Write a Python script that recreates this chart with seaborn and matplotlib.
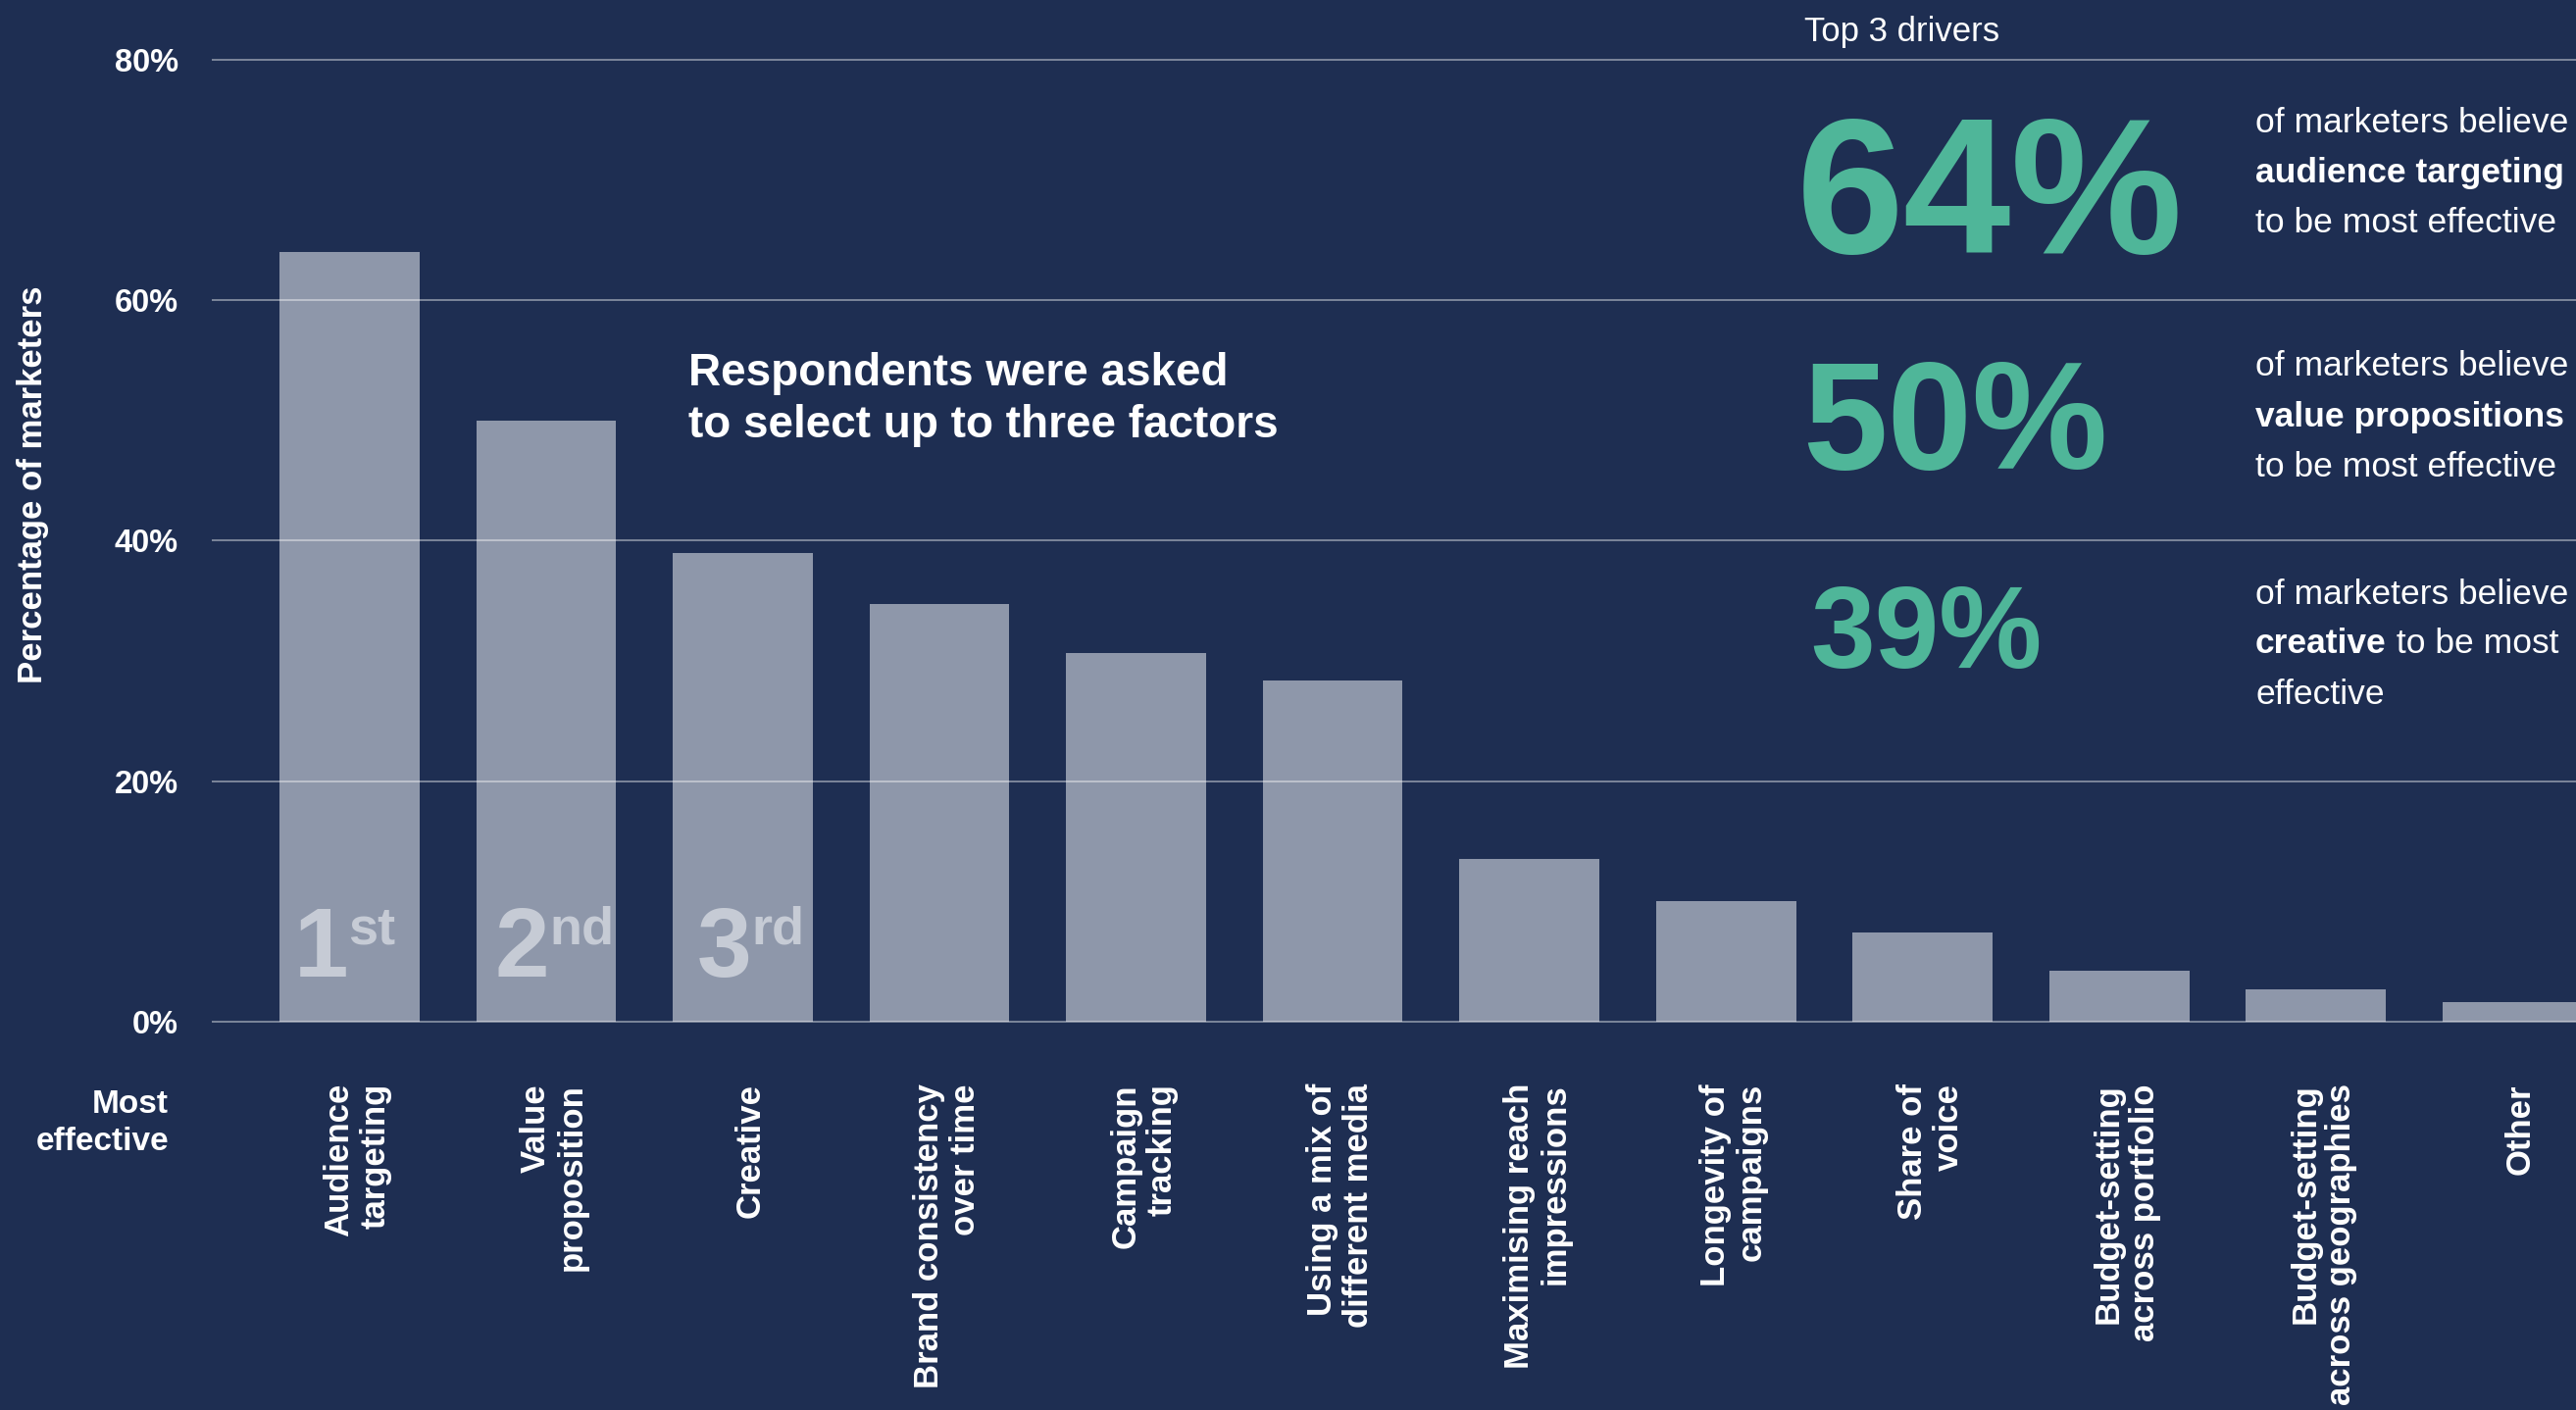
import matplotlib
matplotlib.use("Agg")
import matplotlib.pyplot as plt
import matplotlib.transforms as mtransforms
import seaborn as sns
import pandas as pd

# ---- data -------------------------------------------------------------
factors = [
    "Audience\ntargeting",
    "Value\nproposition",
    "Creative",
    "Brand consistency\nover time",
    "Campaign\ntracking",
    "Using a mix of\ndifferent media",
    "Maximising reach\nimpressions",
    "Longevity of\ncampaigns",
    "Share of\nvoice",
    "Budget-setting\nacross portfolio",
    "Budget-setting\nacross geographies",
    "Other",
]
share = [64, 50, 39, 34.7, 30.7, 28.4, 13.5, 10.0, 7.4, 4.2, 2.7, 1.6]

y_ticks = [0, 20, 40, 60, 80]
y_tick_labels = ["0%", "20%", "40%", "60%", "80%"]

rank_numbers = ["1", "2", "3"]
rank_suffixes = ["st", "nd", "rd"]

driver_names = ["audience targeting", "value propositions", "creative"]

# ---- style ------------------------------------------------------------
BG = "#1e2e52"
BAR = "#8e97aa"
TEAL = "#4fb699"
RANK = "#c6cbd5"
WHITE = "white"

sns.set_theme(style="white")
plt.rcParams["font.family"] = ["Liberation Sans", "DejaVu Sans"]

W, H = 2627, 1438
fig = plt.figure(figsize=(W / 100, H / 100), dpi=100, facecolor=BG)


def fx(x):
    return x / W


def fy(y):
    return 1 - y / H


ax_left, ax_top, ax_bottom = 216, 48.7, 1048.1
ax = fig.add_axes([fx(ax_left), fy(ax_bottom), 1 - fx(ax_left),
                   (ax_bottom - ax_top) / H])
ax.set_facecolor(BG)

df = pd.DataFrame({"factor": factors, "share": share})
sns.barplot(data=df, x="factor", y="share", color=BAR, saturation=1,
            width=0.713, ax=ax, zorder=1, edgecolor="none", linewidth=0)

ax.set_xlim(-0.7007, 11.324)
ax.set_ylim(-0.5, 81)
ax.set_yticks(y_ticks, y_tick_labels)

# light horizontal rules drawn over the bars
ax.set_axisbelow(False)
ax.grid(axis="y", color=WHITE, alpha=0.42, lw=1.4)
ax.grid(axis="x", visible=False)
for s in ax.spines.values():
    s.set_visible(False)

ax.tick_params(axis="y", length=0, pad=24.5, colors=WHITE)
ax.tick_params(axis="x", length=0, pad=41, colors=WHITE)
for lbl in ax.get_yticklabels():
    lbl.set_fontsize(23.5)
    lbl.set_fontweight("bold")

# category labels: rotated, line ends aligned at the top, nudged right
label_shift = mtransforms.ScaledTranslation(8 / 100, 0, fig.dpi_scale_trans)
for lbl in ax.get_xticklabels():
    lbl.set_rotation(90)
    lbl.set_fontsize(25)
    lbl.set_fontweight("bold")
    lbl.set_ha("center")
    lbl.set_va("top")
    lbl.set_multialignment("right")
    lbl.set_linespacing(1.15)
    lbl.set_transform(lbl.get_transform() + label_shift)

ax.set_xlabel("")
ax.set_ylabel("Percentage of marketers", fontsize=25, fontweight="bold",
              color=WHITE)
ax.yaxis.label.set_va("center")
ax.yaxis.set_label_coords((34 - ax_left) / (W - ax_left),
                          (ax_bottom - 494) / (ax_bottom - ax_top))

# rank marks inside the three leading bars
rank_dx = [-1.0, 3.5, 8.5]
for i, (num, suf, dx) in enumerate(zip(rank_numbers, rank_suffixes, rank_dx)):
    ax.annotate(num, xy=(i, 3.75), xytext=(dx * 0.72, 0),
                textcoords="offset points", ha="right", va="baseline",
                fontsize=72, fontweight="bold", color=RANK)
    ax.annotate(suf, xy=(i, 6.44), xytext=(dx * 0.72, 0),
                textcoords="offset points", ha="left", va="baseline",
                fontsize=39, fontweight="bold", color=RANK)

# row label under the axis
fig.text(fx(172), fy(1135), "Most", ha="right", va="baseline",
         fontsize=24, fontweight="bold", color=WHITE)
fig.text(fx(172), fy(1173), "effective", ha="right", va="baseline",
         fontsize=24, fontweight="bold", color=WHITE)

# survey note
fig.text(fx(702), fy(393), "Respondents were asked", ha="left",
         va="baseline", fontsize=33, fontweight="bold", color=WHITE)
fig.text(fx(702), fy(446), "to select up to three factors", ha="left",
         va="baseline", fontsize=33, fontweight="bold", color=WHITE)

# top-3 panel
fig.text(fx(1840), fy(42), "Top 3 drivers", ha="left", va="baseline",
         fontsize=25, color=WHITE)

pct_pos = [(1832, 258, 142), (1838, 478, 112), (1846, 681, 85)]
for v, (x, y, fs) in zip(share[:3], pct_pos):
    fig.text(fx(x), fy(y), f"{v:g}%", ha="left", va="baseline",
             fontsize=fs, fontweight="bold", color=TEAL)

TX = 2300
FS = 25.5
block_baselines = [(135, 186, 237), (383, 435, 486), (616, 666, 718)]
for k, (name, (b1, b2, b3)) in enumerate(zip(driver_names, block_baselines)):
    fig.text(fx(TX), fy(b1), "of marketers believe", ha="left",
             va="baseline", fontsize=FS, color=WHITE)
    if k < 2:
        fig.text(fx(TX), fy(b2), name, ha="left", va="baseline",
                 fontsize=FS, fontweight="bold", color=WHITE)
        fig.text(fx(TX), fy(b3), "to be most effective", ha="left",
                 va="baseline", fontsize=FS, color=WHITE)
    else:
        t = fig.text(fx(TX), fy(b2), name, ha="left", va="baseline",
                     fontsize=FS, fontweight="bold", color=WHITE)
        ax.annotate(" to be most", xy=(1, 0), xycoords=t, ha="left",
                    va="bottom", fontsize=FS, color=WHITE,
                    annotation_clip=False)
        fig.text(fx(TX), fy(b3), "effective", ha="left", va="baseline",
                 fontsize=FS, color=WHITE)

fig.savefig("out.png", dpi=100, facecolor=BG)
